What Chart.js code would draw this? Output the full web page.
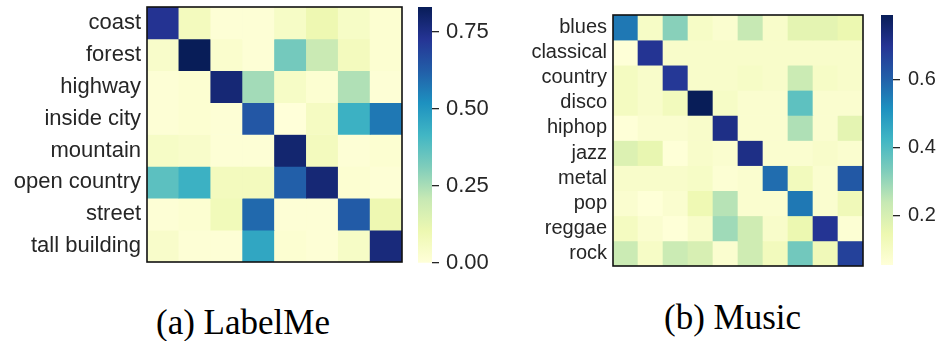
<!DOCTYPE html>
<html>
<head>
<meta charset="utf-8">
<script src="https://cdn.jsdelivr.net/npm/chart.js@4.4.1/dist/chart.umd.min.js"></script>
<style>
  html, body { margin: 0; padding: 0; background: #fff; width: 940px; height: 341px; overflow: hidden; }
  canvas { position: absolute; }
  .cap { position: absolute; font-family: "Liberation Serif", "Times New Roman", serif; font-size: 35px; color: #000; white-space: nowrap; line-height: 1; }
</style>
</head>
<body>
<canvas id="labelme" width="410" height="275" style="left:0;top:0"></canvas>
<canvas id="labelmeBar" width="90" height="275" style="left:410px;top:0"></canvas>
<canvas id="music" width="370" height="280" style="left:500px;top:0"></canvas>
<canvas id="musicBar" width="70" height="280" style="left:870px;top:0"></canvas>
<div class="cap" id="capA" style="left:156px;top:305px">(a) LabelMe</div>
<div class="cap" id="capB" style="left:664px;top:300px">(b) Music</div>
<script>
// ---- data ----
const labelmeClasses = ['coast', 'forest', 'highway', 'inside city', 'mountain', 'open country', 'street', 'tall building'];
const labelmeMatrix = [
  [0.73, 0.07, 0.01, 0.01, 0.05, 0.10, 0.05, 0.02],
  [0.04, 0.83, 0.03, 0.01, 0.33, 0.20, 0.07, 0.02],
  [0.01, 0.02, 0.78, 0.26, 0.05, 0.02, 0.24, 0.01],
  [0.01, 0.02, 0.01, 0.64, 0.00, 0.06, 0.43, 0.57],
  [0.05, 0.04, 0.01, 0.01, 0.79, 0.07, 0.01, 0.02],
  [0.37, 0.43, 0.07, 0.07, 0.62, 0.78, 0.02, 0.01],
  [0.01, 0.02, 0.08, 0.60, 0.01, 0.01, 0.63, 0.10],
  [0.04, 0.01, 0.01, 0.46, 0.02, 0.01, 0.05, 0.77]
];
const labelmeRange = [0, 0.83];
const labelmeTicks = [0, 0.25, 0.5, 0.75];

const musicClasses = ['blues', 'classical', 'country', 'disco', 'hiphop', 'jazz', 'metal', 'pop', 'reggae', 'rock'];
const musicMatrix = [
  [0.56, 0.10, 0.32, 0.10, 0.08, 0.24, 0.09, 0.17, 0.17, 0.15],
  [0.06, 0.70, 0.09, 0.09, 0.09, 0.09, 0.09, 0.09, 0.09, 0.09],
  [0.11, 0.09, 0.69, 0.09, 0.09, 0.10, 0.09, 0.23, 0.10, 0.09],
  [0.11, 0.09, 0.12, 0.79, 0.10, 0.08, 0.08, 0.38, 0.08, 0.08],
  [0.06, 0.08, 0.08, 0.09, 0.72, 0.08, 0.08, 0.27, 0.08, 0.17],
  [0.19, 0.16, 0.06, 0.09, 0.08, 0.72, 0.08, 0.08, 0.09, 0.08],
  [0.09, 0.09, 0.09, 0.10, 0.07, 0.08, 0.58, 0.12, 0.08, 0.62],
  [0.08, 0.06, 0.08, 0.14, 0.26, 0.08, 0.08, 0.56, 0.08, 0.13],
  [0.11, 0.08, 0.06, 0.09, 0.29, 0.22, 0.09, 0.15, 0.70, 0.07],
  [0.23, 0.10, 0.23, 0.20, 0.08, 0.22, 0.12, 0.35, 0.13, 0.67]
];
const musicRange = [0.056, 0.79];
const musicTicks = [0.2, 0.4, 0.6];

// ---- YlGnBu colour map ----
const YLGNBU = [
  [255, 255, 217], [237, 248, 177], [199, 233, 180], [127, 205, 187], [65, 182, 196],
  [29, 145, 192], [34, 94, 168], [37, 52, 148], [8, 29, 88]
];
function ylgnbu(t) {
  t = Math.max(0, Math.min(1, t));
  const p = t * (YLGNBU.length - 1);
  const i = Math.min(Math.floor(p), YLGNBU.length - 2);
  const f = p - i;
  const a = YLGNBU[i], b = YLGNBU[i + 1];
  const c = a.map((v, k) => Math.round(v + (b[k] - v) * f));
  return `rgb(${c[0]},${c[1]},${c[2]})`;
}

Chart.defaults.font.family = '"Liberation Sans", Arial, Helvetica, sans-serif';
Chart.defaults.color = '#262626';

const frame = {
  id: 'frame',
  afterDatasetsDraw(chart) {
    const a = chart.chartArea, ctx = chart.ctx;
    ctx.save();
    ctx.strokeStyle = '#111';
    ctx.lineWidth = 1.6;
    ctx.strokeRect(a.left, a.top, a.right - a.left, a.bottom - a.top);
    ctx.restore();
  }
};

// fixed axis width, no extra room reserved for the end labels
function fixAxis(width) {
  return s => { s.width = width; s.paddingTop = 0; s.paddingBottom = 0; };
}

function heatmap(id, classes, matrix, range, fontSize, axisWidth, padding) {
  const cols = classes.map((_, j) => 'c' + j);
  const datasets = matrix.map((row, i) => ({
    data: row.map((v, j) => ({ x: cols[j], y: [i, i + 1], v })),
    backgroundColor: ctx => ylgnbu((ctx.raw.v - range[0]) / (range[1] - range[0])),
    borderWidth: 0,
    barPercentage: 1,
    categoryPercentage: 1,
    grouped: false
  }));
  new Chart(document.getElementById(id), {
    type: 'bar',
    data: { labels: cols, datasets },
    options: {
      responsive: false, animation: false, devicePixelRatio: 1,
      layout: { padding },
      plugins: { legend: { display: false }, tooltip: { enabled: false } },
      scales: {
        x: { display: false, offset: true },
        y: {
          min: 0, max: classes.length, reverse: true,
          grid: { display: false, drawTicks: false },
          border: { display: false },
          afterBuildTicks: s => { s.ticks = classes.map((_, i) => ({ value: i + 0.5 })); },
          afterFit: fixAxis(axisWidth),
          ticks: {
            autoSkip: false, padding: 6,
            font: { size: fontSize },
            callback: v => classes[Math.floor(v)]
          }
        }
      }
    },
    plugins: [frame]
  });
}

function colorbar(id, range, ticks, digits, fontSize, axisWidth, padding, tickPad) {
  new Chart(document.getElementById(id), {
    type: 'bar',
    data: {
      labels: ['bar'],
      datasets: [{
        data: [range],
        backgroundColor: ctx => {
          const a = ctx.chart.chartArea;
          if (!a) return null;
          const g = ctx.chart.ctx.createLinearGradient(0, a.bottom, 0, a.top);
          YLGNBU.forEach((c, i) => g.addColorStop(i / (YLGNBU.length - 1), `rgb(${c[0]},${c[1]},${c[2]})`));
          return g;
        },
        borderWidth: 0, barPercentage: 1, categoryPercentage: 1
      }]
    },
    options: {
      responsive: false, animation: false, devicePixelRatio: 1,
      layout: { padding },
      plugins: { legend: { display: false }, tooltip: { enabled: false } },
      scales: {
        x: { display: false },
        y: {
          position: 'right', min: range[0], max: range[1],
          grid: { drawOnChartArea: false, drawTicks: true, tickLength: 7, color: '#262626', lineWidth: 1.3 },
          border: { display: false },
          afterBuildTicks: s => { s.ticks = ticks.map(v => ({ value: v })); },
          afterFit: fixAxis(axisWidth),
          ticks: { autoSkip: false, padding: tickPad, font: { size: fontSize }, callback: v => v.toFixed(digits) }
        }
      }
    }
  });
}

heatmap('labelme', labelmeClasses, labelmeMatrix, labelmeRange, 22, 147, { left: 0, right: 8, top: 7, bottom: 13 });
colorbar('labelmeBar', labelmeRange, labelmeTicks, 2, 22, 68, { left: 8, right: 0, top: 7, bottom: 12 }, 7);
heatmap('music', musicClasses, musicMatrix, musicRange, 20, 113, { left: 0, right: 7, top: 15, bottom: 14 });
colorbar('musicBar', musicRange, musicTicks, 1, 20, 47, { left: 11, right: 0, top: 15, bottom: 15 }, 8);
</script>
</body>
</html>
